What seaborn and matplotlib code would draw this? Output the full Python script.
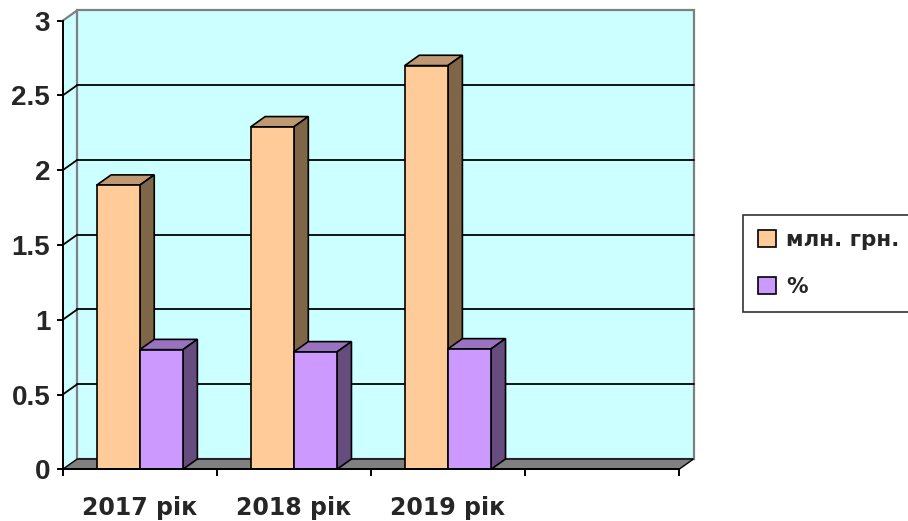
import numpy as np
import pandas as pd
import matplotlib
matplotlib.use("Agg")
import matplotlib.pyplot as plt
from matplotlib.patches import Polygon, Patch
import seaborn as sns

# ---- data -------------------------------------------------------------
years = ["2017 рік", "2018 рік", "2019 рік"]
mln_uah = [1.90, 2.29, 2.70]
percent = [0.80, 0.785, 0.805]
series_names = ["млн. грн.", "%"]
y_ticks = [0, 0.5, 1, 1.5, 2, 2.5, 3]
y_tick_labels = ["0", "0.5", "1", "1.5", "2", "2.5", "3"]

df = pd.DataFrame({
    "year": years * 2,
    "value": mln_uah + percent,
    "series": [series_names[0]] * len(years) + [series_names[1]] * len(years),
})

# ---- style ------------------------------------------------------------
sns.set_style("white")
plt.rcParams["font.family"] = ["DejaVu Sans"]

front_colors = {"млн. грн.": "#FFCC99", "%": "#CC99FF"}
top_colors = {"млн. грн.": "#BF9973", "%": "#9973BF"}
side_colors = {"млн. грн.": "#7F6648", "%": "#664C7F"}
wall_color = "#CCFFFF"
wall_edge = "#808080"
floor_color = "#808080"

W, H = 908, 521
fig = plt.figure(figsize=(W / 100, H / 100), dpi=100)
ax = fig.add_axes([62.7 / W, (H - 469.3) / H, 616.3 / W, 448.6 / H])
ax.set_facecolor("none")

sns.barplot(data=df, x="year", y="value", hue="series", order=years,
            hue_order=series_names, palette=front_colors, width=0.56,
            saturation=1, edgecolor="black", linewidth=1.2, legend=False,
            ax=ax, zorder=5)

ax.set_xlim(-0.5, 3.5)
ax.set_ylim(0, 3)

# depth of the pseudo-3D projection, in pixels, converted to data units
DX, DY = 14.5, 10.3
p0 = ax.transData.transform((0, 0))
q0 = ax.transData.inverted().transform(p0 + np.array([DX, DY]))
ddx, ddy = q0[0], q0[1]

x_lo, x_hi = ax.get_xlim()
y_lo, y_hi = ax.get_ylim()

# side wall (left) and back wall
side_wall = Polygon([(x_lo, y_lo), (x_lo + ddx, y_lo + ddy),
                     (x_lo + ddx, y_hi + ddy), (x_lo, y_hi)],
                    closed=True, facecolor=wall_color, edgecolor="none",
                    zorder=0.4, clip_on=False)
ax.add_patch(side_wall)
wall = Polygon([(x_lo + ddx, y_lo + ddy), (x_hi + ddx, y_lo + ddy),
                (x_hi + ddx, y_hi + ddy), (x_lo + ddx, y_hi + ddy)],
               closed=True, facecolor=wall_color, edgecolor=wall_edge,
               linewidth=1.6, zorder=0.5, clip_on=False)
ax.add_patch(wall)

# gridlines on the back wall and the matching strokes on the side wall
for yv in y_ticks[1:]:
    if yv != y_hi:
        ax.plot([x_lo + ddx, x_hi + ddx], [yv + ddy, yv + ddy], color="black",
                lw=1.3, zorder=1, clip_on=False)
        ax.plot([x_lo, x_lo + ddx], [yv, yv + ddy], color="black", lw=1.3,
                zorder=1, clip_on=False)
    else:
        ax.plot([x_lo, x_lo + ddx], [yv, yv + ddy], color=wall_edge, lw=1.6,
                zorder=1, clip_on=False)

# floor
floor = Polygon([(x_lo, 0), (x_hi, 0), (x_hi + ddx, ddy), (x_lo + ddx, ddy)],
                closed=True, facecolor=floor_color, edgecolor="black",
                linewidth=1.0, zorder=2, clip_on=False)
ax.add_patch(floor)

# top and side faces of every bar, derived from the bar rectangles
bars = [p for p in ax.patches if p not in (wall, floor, side_wall)]
for i, bar in enumerate(bars):
    name = series_names[i // len(years)]
    x0, w, h = bar.get_x(), bar.get_width(), bar.get_height()
    z = 5 + 0.1 * (i // len(years))
    bar.set_zorder(z + 0.05)
    top = Polygon([(x0, h), (x0 + w, h), (x0 + w + ddx, h + ddy), (x0 + ddx, h + ddy)],
                  closed=True, facecolor=top_colors[name], edgecolor="black",
                  linewidth=1.2, zorder=z, clip_on=False)
    side = Polygon([(x0 + w, 0), (x0 + w + ddx, ddy), (x0 + w + ddx, h + ddy), (x0 + w, h)],
                   closed=True, facecolor=side_colors[name], edgecolor="black",
                   linewidth=1.2, zorder=z, clip_on=False)
    ax.add_patch(top)
    ax.add_patch(side)

# axes, ticks and labels
for s in ("top", "right"):
    ax.spines[s].set_visible(False)
for s in ("left", "bottom"):
    ax.spines[s].set_color("black")
    ax.spines[s].set_linewidth(1.4)
    ax.spines[s].set_zorder(6)

ax.set_yticks(y_ticks)
ax.set_yticklabels(y_tick_labels, fontsize=20, fontweight="bold",
                   family=["Liberation Sans", "DejaVu Sans"])
ax.tick_params(axis="y", direction="out", length=4, width=1.4, color="black",
               pad=5, left=True)

ax.set_xticks(range(len(years)))
ax.set_xticklabels(years, fontsize=17, fontweight="bold")
ax.set_xticks(np.arange(x_lo, x_hi + 0.01, 1.0), minor=True)
ax.tick_params(axis="x", which="major", length=0, pad=19)
ax.tick_params(axis="x", which="minor", direction="out", length=5, width=1.4,
               color="black", bottom=True)
ax.set_xlabel("")
ax.set_ylabel("")
ax.grid(False)

handles = [Patch(facecolor=front_colors[n], edgecolor="black", linewidth=1.2, label=n)
           for n in series_names]
leg = fig.legend(handles=handles, loc="upper left",
                 bbox_to_anchor=(743 / W, 1 - 215 / H), frameon=True,
                 fancybox=False, edgecolor="black",
                 handlelength=0.84, handleheight=0.84, handletextpad=0.47,
                 labelspacing=1.25, borderpad=0.7, borderaxespad=0,
                 prop={"weight": "bold", "size": 15.5, "family": "DejaVu Sans"})
leg.get_frame().set_linewidth(1.2)

fig.savefig("out.png", dpi=100)
